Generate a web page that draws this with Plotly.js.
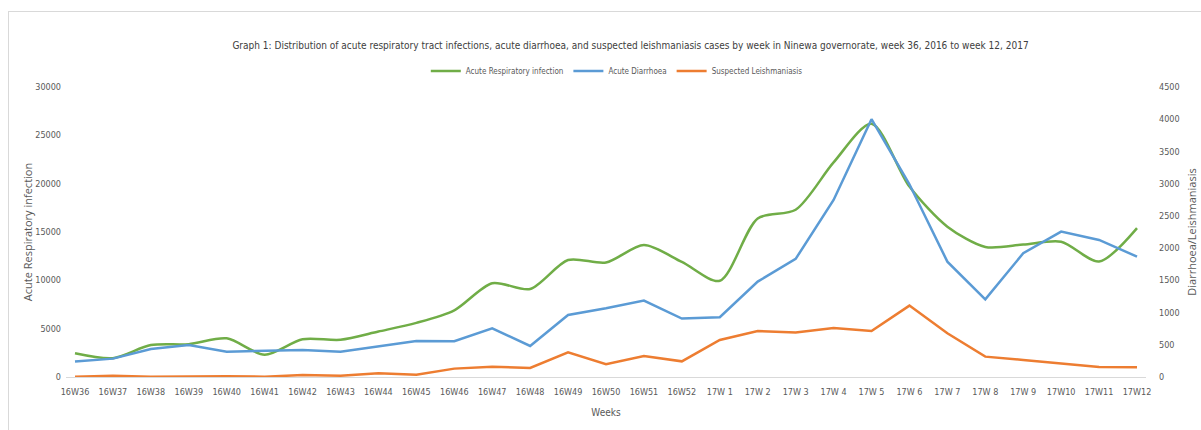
<!DOCTYPE html>
<html>
<head>
<meta charset="utf-8">
<script src="https://cdn.plot.ly/plotly-3.0.1.min.js"></script>
<style>
  html, body { margin: 0; padding: 0; background: #fff; }
  #frame { position: absolute; left: 8px; top: 11px; width: 1193px; height: 419px;
           border-left: 1px solid #d9d9d9; border-top: 1px solid #d9d9d9; box-sizing: border-box; pointer-events: none; }
  #chart { position: absolute; left: 0; top: 0; width: 1201px; height: 430px; }
</style>
</head>
<body>
<div id="chart"></div>
<div id="frame"></div>
<script>
const weeks = ["16W36","16W37","16W38","16W39","16W40","16W41","16W42","16W43","16W44","16W45",
  "16W46","16W47","16W48","16W49","16W50","16W51","16W52","17W 1","17W 2","17W 3",
  "17W 4","17W 5","17W 6","17W 7","17W 8","17W 9","17W10","17W11","17W12"];

const respiratory = [2450, 1950, 3300, 3400, 4000, 2300, 3900, 3850, 4700, 5600,
  6900, 9700, 9100, 12100, 11850, 13650, 11900, 9950, 16400, 17300,
  22200, 26200, 19700, 15550, 13450, 13700, 14000, 11950, 15400];

const diarrhoea = [240, 285, 435, 497, 393, 409, 419, 393, 481, 559,
  555, 756, 481, 963, 1066, 1185, 906, 927, 1480, 1832,
  2748, 4000, 2990, 1790, 1206, 1920, 2257, 2127, 1868];

const leishmaniasis = [5, 20, 5, 10, 12, 5, 30, 20, 57, 36,
  130, 160, 140, 383, 197, 326, 243, 575, 714, 690,
  761, 714, 1108, 678, 316, 264, 212, 155, 150];

const font = "'DejaVu Sans Condensed', 'Liberation Sans Narrow', 'Open Sans', sans-serif";
const grey = "#595959";

const traces = [
  { x: weeks, y: respiratory, name: "Acute Respiratory infection", type: "scatter", mode: "lines",
    line: { color: "#70AD47", width: 2.5, shape: "spline", smoothing: 0.8 }, yaxis: "y" },
  { x: weeks, y: diarrhoea, name: "Acute Diarrhoea", type: "scatter", mode: "lines",
    line: { color: "#5B9BD5", width: 2.5 }, yaxis: "y2" },
  { x: weeks, y: leishmaniasis, name: "Suspected Leishmaniasis", type: "scatter", mode: "lines",
    line: { color: "#ED7D31", width: 2.5 }, yaxis: "y2" }
];

const layout = {
  width: 1201, height: 430,
  margin: { l: 66, r: 55, t: 87, b: 53 },
  paper_bgcolor: "#fff", plot_bgcolor: "#fff",
  font: { family: font, size: 9, color: grey },
  title: { text: "Graph 1: Distribution of acute respiratory tract infections, acute diarrhoea, and suspected leishmaniasis cases by week in Ninewa governorate, week 36, 2016 to week 12, 2017",
    font: { family: font, size: 10, color: "#404040" }, x: 0.525, xanchor: "center", y: 0.895, yanchor: "middle" },
  showlegend: true,
  legend: { orientation: "h", x: 0.51, xanchor: "center", y: 1.055, yanchor: "middle",
    font: { family: font, size: 8, color: grey }, tracegroupgap: 0 },
  xaxis: { type: "category", range: [-0.237, 28.237], showgrid: false, zeroline: false, showline: false,
    ticks: "", tickfont: { family: font, size: 9, color: grey }, tickangle: 0, ticklabelstandoff: 8,
    title: { text: "Weeks", font: { family: font, size: 10, color: grey }, standoff: 12 } },
  yaxis: { range: [0, 30000], dtick: 5000, tickformat: "d", showgrid: false, zeroline: true, zerolinecolor: "#d9d9d9", zerolinewidth: 1,
    showline: false, ticks: "", tickfont: { family: font, size: 9, color: grey }, ticklabelstandoff: 4,
    title: { text: "Acute Respiratory infection", font: { family: "'Open Sans', sans-serif", size: 11, color: grey }, standoff: 0 } },
  yaxis2: { range: [0, 4500], dtick: 500, tickformat: "d", overlaying: "y", side: "right", showgrid: false, zeroline: false,
    showline: false, ticks: "", tickfont: { family: font, size: 9, color: grey }, ticklabelstandoff: 12,
    title: { text: "Diarrhoea/Leishmaniasis", font: { family: "'Open Sans', sans-serif", size: 11, color: grey }, standoff: 9 } }
};

Plotly.newPlot("chart", traces, layout, { displayModeBar: false, staticPlot: true });
</script>
</body>
</html>
